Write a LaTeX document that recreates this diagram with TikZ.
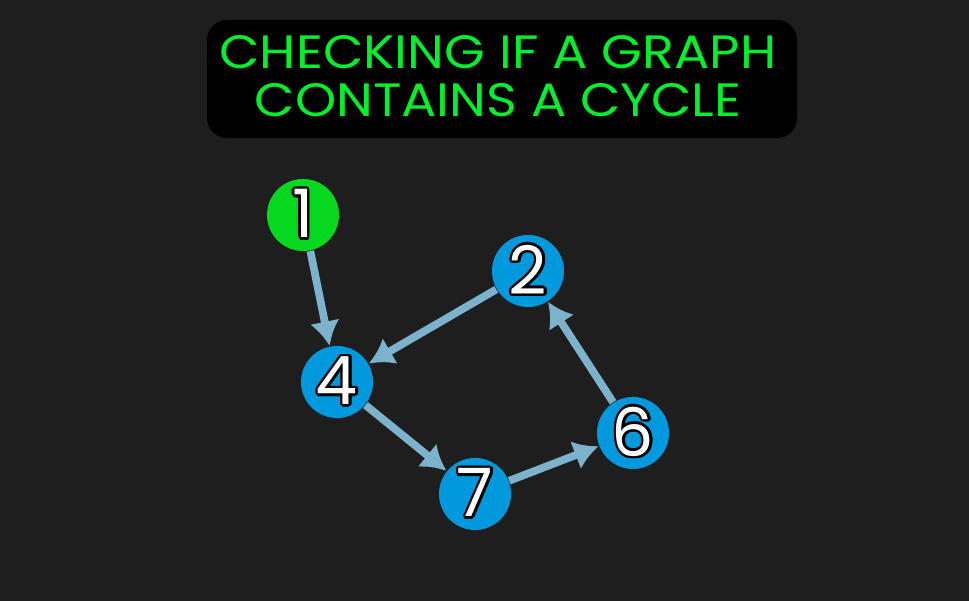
\documentclass[tikz,border=0pt]{standalone}
\usepackage{fontspec}
\setmainfont{Poppins}
\usepackage[copies]{contour}
\usetikzlibrary{arrows.meta}

\definecolor{bgdark}{HTML}{1E1E1E}
\definecolor{titlegreen}{HTML}{00F02A}
\definecolor{startgreen}{HTML}{05D81E}
\definecolor{nodeblue}{HTML}{0099DD}
\definecolor{edgeblue}{HTML}{7DB2CC}
\contourlength{0.7pt}

\begin{document}
\begin{tikzpicture}[x=0.01cm, y=-0.01cm,
    vertex/.style={circle, fill=nodeblue, minimum size=0.72cm, inner sep=0pt,
                   font=\fontsize{19}{19}\selectfont},
    start/.style={vertex, fill=startgreen},
    edge/.style={edgeblue, line width=2.2pt, -{Latex[length=7pt, width=8.5pt]}}]
    % Background
    \fill[bgdark] (0, 0) rectangle (969, 601);
    \useasboundingbox (0, 0) rectangle (969, 601);

    % Title
    \fill[black, rounded corners=0.2cm] (207, 20) rectangle (797, 138);
    \node[titlegreen, font=\fontsize{13.3}{13.8}\selectfont] (title) at (498, 83)
        {\scalebox{1.12}[1]{\begin{tabular}{@{}c@{}}CHECKING IF A GRAPH\\ CONTAINS A CYCLE\end{tabular}}};

    % Vertices
    \node[start] (n1) at (303, 215) {\contour{black}{\textcolor{white}{1}}};
    \node[vertex] (n2) at (528, 271) {\contour{black}{\textcolor{white}{2}}};
    \node[vertex] (n4) at (337, 382) {\contour{black}{\textcolor{white}{4}}};
    \node[vertex] (n7) at (475, 494) {\contour{black}{\textcolor{white}{7}}};
    \node[vertex] (n6) at (633, 433) {\contour{black}{\textcolor{white}{6}}};

    % Edges
    \draw[edge] (n1) -- (n4);
    \draw[edge] (n2) -- (n4);
    \draw[edge] (n4) -- (n7);
    \draw[edge] (n7) -- (n6);
    \draw[edge] (n6) -- (n2);
\end{tikzpicture}
\end{document}
